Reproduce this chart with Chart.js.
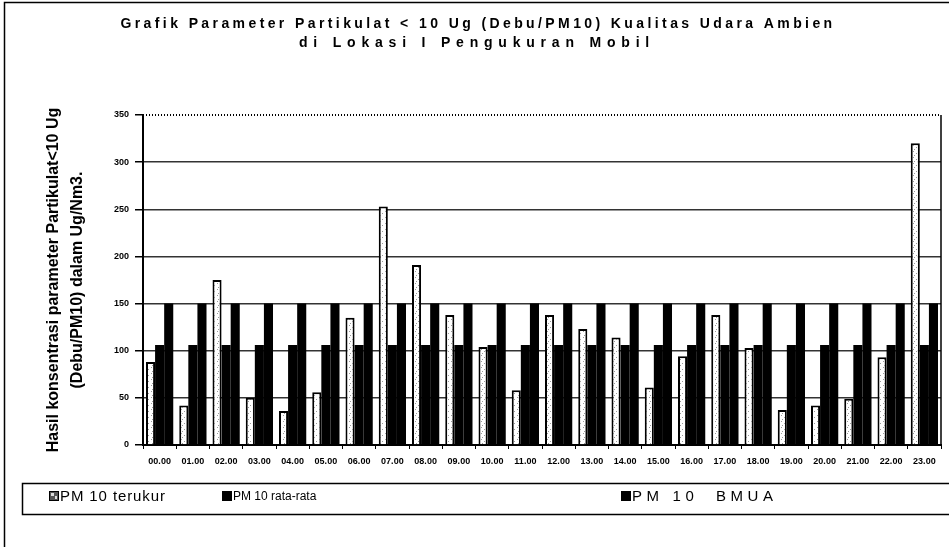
<!DOCTYPE html>
<html>
<head>
<meta charset="utf-8">
<script src="https://cdn.jsdelivr.net/npm/chart.js@4.4.1/dist/chart.umd.min.js"></script>
<style>
  html, body { margin: 0; padding: 0; background: #fff; }
  #wrap { width: 949px; height: 547px; }
</style>
</head>
<body>
<div id="wrap"><canvas id="pmChart" width="949" height="547"></canvas></div>
<script>
// hourly measurements
const hours = ["00.00", "01.00", "02.00", "03.00", "04.00", "05.00", "06.00", "07.00",
               "08.00", "09.00", "10.00", "11.00", "12.00", "13.00", "14.00", "15.00",
               "16.00", "17.00", "18.00", "19.00", "20.00", "21.00", "22.00", "23.00"];
const pmTerukur = [88, 42, 175, 50, 36, 56, 135, 253, 191, 138, 104, 58,
                   138, 123, 114, 61, 94, 138, 103, 37, 42, 49, 93, 320];
const pmRataRata = [106, 106, 106, 106, 106, 106, 106, 106, 106, 106, 106, 106,
                    106, 106, 106, 106, 106, 106, 106, 106, 106, 106, 106, 106];
const pmBmua = [150, 150, 150, 150, 150, 150, 150, 150, 150, 150, 150, 150,
                150, 150, 150, 150, 150, 150, 150, 150, 150, 150, 150, 150];
const yTicks = [0, 50, 100, 150, 200, 250, 300, 350];

const titleLines = ["Grafik Parameter Partikulat < 10 Ug (Debu/PM10) Kualitas Udara Ambien",
                    "di Lokasi I Pengukuran Mobil"];
const yTitleLines = ["Hasil konsentrasi parameter Partikulat<10 Ug",
                     "(Debu/PM10) dalam Ug/Nm3."];
const seriesNames = ["PM 10 terukur", "PM 10 rata-rata", "PM 10  BMUA"];

// speckled white fill for the measured bars
function speckle() {
    const c = document.createElement("canvas");
    c.width = 6; c.height = 6;
    const g = c.getContext("2d");
    g.fillStyle = "#fff";
    g.fillRect(0, 0, 6, 6);
    g.fillStyle = "#9a9a9a";
    g.fillRect(1, 1, 1, 1);
    g.fillRect(4, 3, 1, 1);
    g.fillRect(2, 5, 1, 1);
    return g.createPattern(c, "repeat");
}

// title, axis title, frame and legend box
const decor = {
    id: "decor",
    afterDraw(chart) {
        const ctx = chart.ctx;
        const a = chart.chartArea;
        const yTop = chart.scales.y.getPixelForValue(yTicks[yTicks.length - 1]);
        ctx.save();

        // page frame
        ctx.strokeStyle = "#000";
        ctx.lineWidth = 1.5;
        ctx.beginPath();
        ctx.moveTo(4.5, 547);
        ctx.lineTo(4.5, 2.5);
        ctx.lineTo(949, 2.5);
        ctx.stroke();

        // dotted top edge and solid right edge of the plot
        ctx.lineWidth = 2;
        ctx.setLineDash([1, 2]);
        ctx.beginPath();
        ctx.moveTo(a.left, yTop);
        ctx.lineTo(a.right, yTop);
        ctx.stroke();
        ctx.setLineDash([]);
        ctx.lineWidth = 1.5;
        ctx.beginPath();
        ctx.moveTo(a.right, yTop);
        ctx.lineTo(a.right, a.bottom);
        ctx.stroke();

        // title
        ctx.fillStyle = "#000";
        ctx.textAlign = "center";
        ctx.textBaseline = "middle";
        ctx.font = "bold 14px 'Liberation Sans', Arial, sans-serif";
        ctx.letterSpacing = "3.4px";
        ctx.fillText(titleLines[0], 478, 24);
        ctx.letterSpacing = "5.8px";
        ctx.fillText(titleLines[1], 477, 43);

        // y axis title, centred on the plot
        const midY = (a.top + a.bottom) / 2;
        ctx.letterSpacing = "0px";
        ctx.font = "bold 16px 'Liberation Sans', Arial, sans-serif";
        ctx.save();
        ctx.translate(54, midY);
        ctx.rotate(-Math.PI / 2);
        ctx.fillText(yTitleLines[0], 0, 0);
        ctx.restore();
        ctx.save();
        ctx.translate(78, midY);
        ctx.rotate(-Math.PI / 2);
        ctx.fillText(yTitleLines[1], 0, 0);
        ctx.restore();

        // legend box
        ctx.lineWidth = 1.5;
        ctx.strokeRect(22.5, 483.5, 940, 31);
        const items = [
            { x: 49, font: "15px 'Liberation Sans', Arial, sans-serif", sp: "0.9px" },
            { x: 222, font: "12px 'Liberation Sans Narrow', 'Liberation Sans', Arial, sans-serif", sp: "0px" },
            { x: 621, font: "15px 'Liberation Sans', Arial, sans-serif", sp: "4.6px" }
        ];
        ctx.textAlign = "left";
        chart.data.datasets.forEach((ds, i) => {
            const it = items[i];
            ctx.fillStyle = i === 0 ? "#555" : "#000";
            ctx.fillRect(it.x, 491, 10, 10);
            if (i === 0) {
                ctx.strokeStyle = "#000";
                ctx.lineWidth = 1;
                ctx.strokeRect(it.x + 0.5, 491.5, 9, 9);
                ctx.fillStyle = "#ddd";
                ctx.fillRect(it.x + 2, 493, 3, 3);
                ctx.fillRect(it.x + 6, 496, 2, 3);
            }
            ctx.fillStyle = "#000";
            ctx.font = it.font;
            ctx.letterSpacing = it.sp;
            ctx.fillText(ds.label, it.x + 11, 497);
        });
        ctx.restore();
    }
};

const ctx = document.getElementById("pmChart").getContext("2d");
new Chart(ctx, {
    type: "bar",
    data: {
        labels: hours,
        datasets: [{
            label: seriesNames[0],
            data: pmTerukur,
            backgroundColor: speckle(),
            borderColor: "#000",
            borderWidth: 2,
            borderSkipped: "bottom"
        }, {
            label: seriesNames[1],
            data: pmRataRata,
            backgroundColor: "#000"
        }, {
            label: seriesNames[2],
            data: pmBmua,
            backgroundColor: "#000"
        }]
    },
    options: {
        responsive: false,
        animation: false,
        layout: { padding: { left: 0, top: 115, right: 8, bottom: 70 } },
        plugins: {
            legend: { display: false },
            title: { display: false },
            tooltip: { enabled: false }
        },
        datasets: { bar: { categoryPercentage: 0.82, barPercentage: 1.0 } },
        scales: {
            x: {
                grid: { offset: true, drawOnChartArea: false, tickLength: 4, color: "#000", lineWidth: 1 },
                border: { color: "#000", width: 2 },
                ticks: {
                    color: "#000",
                    font: { family: "'Liberation Sans Narrow', 'Liberation Sans', Arial, sans-serif", size: 9, weight: "bold" },
                    maxRotation: 0,
                    autoSkip: false,
                    padding: 7
                },
                afterFit(scale) { scale.height = 32; }
            },
            y: {
                min: yTicks[0],
                max: yTicks[yTicks.length - 1],
                afterBuildTicks(scale) { scale.ticks = yTicks.map(v => ({ value: v })); },
                grid: {
                    color: c => (c.tick.value === 0 || c.tick.value === 350) ? "rgba(0,0,0,0)" : "#333",
                    tickColor: "#000",
                    lineWidth: 1.5,
                    tickLength: 8
                },
                border: { color: "#000", width: 2 },
                ticks: {
                    color: "#000",
                    font: { family: "'Liberation Sans', Arial, sans-serif", size: 9, weight: "bold" },
                    padding: 6
                },
                afterFit(scale) { scale.width = 143; }
            }
        }
    },
    plugins: [decor]
});
</script>
</body>
</html>
